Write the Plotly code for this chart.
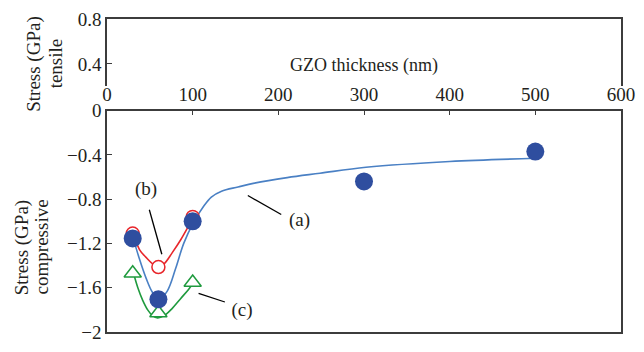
import plotly.graph_objects as go

# GZO film thickness (nm) of the measured samples
thickness_a = [30, 60, 100, 300, 500]
stress_a = [-1.155, -1.705, -1.0, -0.64, -0.37]

thickness_b = [30, 60, 100]
stress_b = [-1.111, -1.413, -0.960]

thickness_c = [30, 60, 100]
stress_c = [-1.469, -1.829, -1.553]

# guide curves (a), (b), (c)
curve_a_x = [31, 37.9, 45.6, 53.2, 60.9, 70.5, 80.1, 89.7, 101.1, 112.6, 121.8,
             133.7, 152.9, 172.1, 210.3, 248.6, 302.3, 400, 501]
curve_a_y = [-1.163, -1.341, -1.513, -1.643, -1.705, -1.628, -1.427, -1.197, -1.010,
             -0.867, -0.781, -0.728, -0.690, -0.655, -0.605, -0.566, -0.512, -0.459, -0.431]

curve_b_x = [31, 37.9, 45.6, 53.2, 60.1, 66.7, 76.2, 85.9, 95.4, 101]
curve_b_y = [-1.111, -1.255, -1.326, -1.384, -1.413, -1.384, -1.283, -1.169, -1.040, -0.960]

curve_c_x = [31, 36, 41.7, 47.5, 53.2, 59, 66.7, 76.2, 85.9, 95.4, 101]
curve_c_y = [-1.469, -1.600, -1.714, -1.800, -1.852, -1.872, -1.852, -1.786, -1.699, -1.613, -1.553]

# curve labels and their leader lines
label_text = ["(a)", "(b)", "(c)"]
label_x = [224.7, 45.6, 157.5]
label_y = [-1.003, -0.724, -1.815]
leader_x0 = [164.4, 49.4, 106.9]
leader_y0 = [-0.767, -0.896, -1.651]
leader_x1 = [203.4, 64.0, 137.6]
leader_y1 = [-0.939, -1.298, -1.729]

# rotated captions beside the two stress scales (one line each)
caption_text = ["Stress (GPa)", "tensile", "Stress (GPa)", "compressive"]
caption_x = [-0.142, -0.100, -0.165, -0.128]
caption_y = [0.857, 0.857, 0.271, 0.271]

x_ticks = [0, 100, 200, 300, 400, 500, 600]
y_ticks_comp = [0, -0.4, -0.8, -1.2, -1.6, -2]
y_ticks_comp_text = ["0", "\u22120.4", "\u22120.8", "\u22121.2", "\u22121.6", "\u22122"]
y_ticks_tens = [0.4, 0.8]
y_ticks_tens_text = ["0.4", "0.8"]

FONT = "Liberation Serif, serif"
TXT = "#231f20"
FRAME = "#3c3c3c"
BLUE_LINE = "#4a80c4"
BLUE_MARK = "#2f4e9f"
RED = "#e8262b"
GREEN = "#1f9a3e"

tick_font = dict(family=FONT, size=19, color=TXT)
title_font = dict(family=FONT, size=18, color=TXT)

fig = go.Figure()

# upper (tensile) panel carries no data; an empty trace keeps its axes alive
fig.add_trace(go.Scatter(x=[], y=[], xaxis="x2", yaxis="y2", mode="markers",
                         hoverinfo="skip"))

fig.add_trace(go.Scatter(x=curve_a_x, y=curve_a_y, mode="lines",
                         line=dict(color=BLUE_LINE, width=1.6, shape="spline", smoothing=1.0),
                         hoverinfo="skip"))
fig.add_trace(go.Scatter(x=curve_b_x, y=curve_b_y, mode="lines",
                         line=dict(color=RED, width=1.6, shape="spline", smoothing=1.0),
                         hoverinfo="skip"))
fig.add_trace(go.Scatter(x=curve_c_x, y=curve_c_y, mode="lines",
                         line=dict(color=GREEN, width=1.6, shape="spline", smoothing=1.0),
                         hoverinfo="skip"))

fig.add_trace(go.Scatter(x=thickness_b, y=stress_b, mode="markers",
                         marker=dict(symbol="circle", size=13, color="white",
                                     line=dict(color=RED, width=1.5))))
fig.add_trace(go.Scatter(x=thickness_c, y=stress_c, mode="markers",
                         marker=dict(symbol="triangle-up", size=15, color="white",
                                     line=dict(color=GREEN, width=1.5))))
fig.add_trace(go.Scatter(x=thickness_a, y=stress_a, mode="markers",
                         marker=dict(symbol="circle", size=18, color=BLUE_MARK,
                                     line=dict(width=0))))

# leader lines from the labels to their curves
lead_x, lead_y = [], []
for x0, y0, x1, y1 in zip(leader_x0, leader_y0, leader_x1, leader_y1):
    lead_x += [x0, x1, None]
    lead_y += [y0, y1, None]
fig.add_trace(go.Scatter(x=lead_x, y=lead_y, mode="lines",
                         line=dict(color="black", width=1.3), hoverinfo="skip"))

fig.add_trace(go.Scatter(x=label_x, y=label_y, mode="text", text=label_text,
                         textposition="middle center",
                         textfont=dict(family=FONT, size=19, color=TXT),
                         hoverinfo="skip"))

for t, x, y in zip(caption_text, caption_x, caption_y):
    fig.add_annotation(xref="paper", yref="paper", x=x, y=y, text=t,
                       textangle=-90, showarrow=False,
                       xanchor="center", yanchor="middle",
                       font=dict(family=FONT, size=19, color=TXT))

fig.update_layout(
    width=644, height=352,
    margin=dict(l=107, r=15, t=15, b=9),
    paper_bgcolor="white", plot_bgcolor="white",
    font=dict(family=FONT, size=19, color=TXT),
    showlegend=False,
    xaxis=dict(range=[0, 600], anchor="y", side="top", domain=[0, 1],
               tickvals=x_ticks, ticks="inside", ticklen=5, tickwidth=1.2,
               tickcolor=FRAME, tickfont=tick_font,
               showline=True, linecolor=FRAME, linewidth=1.5, mirror=True,
               showgrid=False, zeroline=False,
               title=dict(text="GZO thickness (nm)", standoff=8, font=title_font)),
    yaxis=dict(range=[-2, 0], domain=[0, 0.7073], anchor="x",
               tickvals=y_ticks_comp, ticktext=y_ticks_comp_text,
               ticks="inside", ticklen=5, tickwidth=1.2, tickcolor=FRAME,
               tickfont=tick_font,
               showline=True, linecolor=FRAME, linewidth=1.5, mirror=True,
               showgrid=False, zeroline=False),
    xaxis2=dict(range=[0, 600], anchor="y2", side="top", domain=[0, 1],
                showticklabels=False, ticks="", showline=True, linecolor=FRAME,
                linewidth=1.5, mirror=False, showgrid=False, zeroline=False),
    yaxis2=dict(range=[0.2, 0.8], domain=[0.785, 1], anchor="x2",
                tickvals=y_ticks_tens, ticktext=y_ticks_tens_text,
                ticks="inside", ticklen=5, tickwidth=1.2, tickcolor=FRAME,
                tickfont=tick_font,
                showline=True, linecolor=FRAME, linewidth=1.5, mirror=True,
                showgrid=False, zeroline=False),
)

fig.write_html("out.html")
